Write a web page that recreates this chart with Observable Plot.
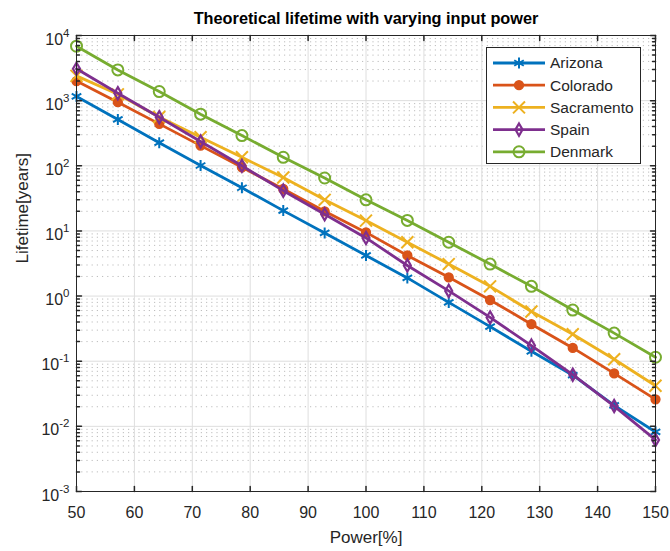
<!DOCTYPE html>
<html><head><meta charset="utf-8">
<script src="https://cdn.jsdelivr.net/npm/d3@7"></script>
<script src="https://cdn.jsdelivr.net/npm/@observablehq/plot@0.6"></script>
<style>
body{margin:0;background:#fff;font-family:"Liberation Sans",Arial,sans-serif;}
#wrap{position:relative;width:670px;height:551px;}
#legend{position:absolute;left:486px;top:47px;width:155px;height:117px;border:1px solid #262626;background:#fff;box-sizing:border-box;}
</style></head><body><div id="wrap"></div>
<script>
// ---- data ----
const power = [50, 57.14, 64.29, 71.43, 78.57, 85.71, 92.86, 100, 107.14, 114.29, 121.43, 128.57, 135.71, 142.86, 150];
const arizona    = [1160, 515, 226, 101, 46, 20.5, 9.3, 4.2, 1.9, 0.8, 0.34, 0.142, 0.061, 0.021, 0.0082];
const colorado   = [2000, 946, 440, 204, 95, 44, 20, 9.5, 4.2, 1.94, 0.87, 0.37, 0.16, 0.065, 0.026];
const sacramento = [2400, 1250, 560, 275, 135, 66, 30, 14.4, 6.7, 3.1, 1.41, 0.58, 0.26, 0.107, 0.042];
const spain      = [3080, 1300, 556, 236, 100, 41.5, 18, 7.8, 2.95, 1.2, 0.47, 0.174, 0.062, 0.0205, 0.0062];
const denmark    = [6850, 2960, 1380, 620, 291, 135, 65, 30, 14.5, 6.7, 3.1, 1.41, 0.61, 0.27, 0.115];
const seriesNames = ["Arizona", "Colorado", "Sacramento", "Spain", "Denmark"];
const seriesValues = [arizona, colorado, sacramento, spain, denmark];
const seriesColors = ["#0072BD", "#D95319", "#EDB120", "#7E2F8E", "#77AC30"];
const seriesSymbols = ["asterisk", "circle", "times", "diamond", "circle"];
const xTicks = [50, 60, 70, 80, 90, 100, 110, 120, 130, 140, 150];
const yExponents = [-3, -2, -1, 0, 1, 2, 3, 4];
const titleText = "Theoretical lifetime with varying input power";
const xLabel = "Power[%]";
const yLabel = "Lifetime[years]";

// ---- derived ----
const rows = [];
seriesNames.forEach((n, i) => power.forEach((p, j) => rows.push({name: n, power: p, life: seriesValues[i][j]})));
const yMajor = yExponents.map(e => Math.pow(10, e));
const yMinor = [];
yExponents.slice(0, -1).forEach(e => { for (let k = 2; k <= 9; k++) yMinor.push(k * Math.pow(10, e)); });
const xGrid = xTicks.slice(1, -1);
const ink = "#262626";
const tickShape = {draw(ctx, l) { ctx.moveTo(0, 0); ctx.lineTo(0, -l); }};
const markerStyle = {
  Arizona:    {r: 5.2, fill: "none", strokeWidth: 2},
  Colorado:   {r: 4.4, fill: "#D95319", strokeWidth: 1.5},
  Sacramento: {r: 5.5, fill: "none", strokeWidth: 2},
  Spain:      {r: 3.7, fill: "none", strokeWidth: 2.2},
  Denmark:    {r: 5.5, fill: "none", strokeWidth: 2}
};

const marks = [
  Plot.ruleY(yMinor, {stroke: "#bdbdbd", strokeDasharray: "1.2,4", strokeWidth: 1}),
  Plot.ruleY(yMajor, {stroke: "#dedede", strokeWidth: 1}),
  Plot.ruleX(xGrid, {stroke: "#dedede", strokeWidth: 1})
];
seriesNames.forEach((n, i) => {
  const d = rows.filter(r => r.name === n);
  const st = markerStyle[n];
  marks.push(Plot.line(d, {x: "power", y: "life", stroke: seriesColors[i], strokeWidth: 2.8}));
  marks.push(Plot.dot(d, {x: "power", y: "life", symbol: seriesSymbols[i], r: st.r, stroke: seriesColors[i], fill: st.fill, strokeWidth: st.strokeWidth}));
});
marks.push(
  Plot.frame({stroke: ink, strokeWidth: 1}),
  Plot.vector(yMajor, {x: 50, y: d => d, length: 5, rotate: 90, anchor: "start", shape: tickShape, stroke: ink}),
  Plot.vector(yMajor, {x: 150, y: d => d, length: 5, rotate: -90, anchor: "start", shape: tickShape, stroke: ink}),
  Plot.vector(yMinor, {x: 50, y: d => d, length: 3, rotate: 90, anchor: "start", shape: tickShape, stroke: ink}),
  Plot.vector(yMinor, {x: 150, y: d => d, length: 3, rotate: -90, anchor: "start", shape: tickShape, stroke: ink}),
  Plot.vector(xTicks, {x: d => d, y: 1e-3, length: 5, rotate: 0, anchor: "start", shape: tickShape, stroke: ink}),
  Plot.vector(xTicks, {x: d => d, y: 1e4, length: 5, rotate: 180, anchor: "start", shape: tickShape, stroke: ink}),
  Plot.axisX({ticks: xTicks, tickSize: 0, tickPadding: 15, label: null, fontSize: 16, fill: ink}),
  Plot.axisY({ticks: yMajor, tickSize: 0, tickPadding: 7, label: null, fontSize: 16, fill: ink, dy: 4,
              tickFormat: d => "10^" + Math.round(Math.log10(d))}),
  Plot.text([titleText], {frameAnchor: "top", dy: -23, fontSize: 16.3, fontWeight: "bold", fill: "#000"}),
  Plot.text([xLabel], {frameAnchor: "bottom", dy: 51, fontSize: 17, fill: ink}),
  Plot.text([yLabel], {frameAnchor: "left", dx: -54, rotate: -90, fontSize: 17, fill: ink})
);

const chart = Plot.plot({
  width: 670, height: 551,
  marginLeft: 76, marginRight: 15, marginTop: 35, marginBottom: 60,
  x: {domain: [50, 150], axis: null},
  y: {type: "log", domain: [1e-3, 1e4], axis: null},
  style: {fontFamily: "'Liberation Sans', Arial, sans-serif", background: "white", overflow: "visible"},
  marks
});

// superscript exponents in y tick labels
chart.querySelectorAll('g[aria-label="y-axis tick label"] text').forEach(t => {
  const s = t.textContent;
  if (!s.includes("^")) return;
  const [b, e] = s.split("^");
  t.textContent = "";
  const ns = "http://www.w3.org/2000/svg";
  const t1 = document.createElementNS(ns, "tspan"); t1.textContent = b;
  const t2 = document.createElementNS(ns, "tspan"); t2.textContent = e;
  t2.setAttribute("dy", "-8"); t2.setAttribute("font-size", "11.5");
  t.appendChild(t1); t.appendChild(t2);
});

const wrap = document.getElementById("wrap");
wrap.appendChild(chart);

// legend
const leg = document.createElement("div");
leg.id = "legend";
wrap.appendChild(leg);
const lsvg = d3.select(leg).append("svg").attr("width", 153).attr("height", 115)
  .style("font-family", "'Liberation Sans', Arial, sans-serif");
const symMap = {asterisk: d3.symbolAsterisk, circle: d3.symbolCircle, times: d3.symbolTimes, diamond: d3.symbolDiamond};
seriesNames.forEach((n, i) => {
  const yy = 15 + i * 22.2;
  const g = lsvg.append("g");
  g.append("line").attr("x1", 6).attr("x2", 58).attr("y1", yy).attr("y2", yy)
    .attr("stroke", seriesColors[i]).attr("stroke-width", 2.8);
  const st = markerStyle[n];
  g.append("path").attr("transform", `translate(32,${yy})`)
    .attr("d", d3.symbol(symMap[seriesSymbols[i]], Math.PI * st.r * st.r)())
    .attr("stroke", seriesColors[i]).attr("fill", st.fill).attr("stroke-width", st.strokeWidth);
  g.append("text").attr("x", 63).attr("y", yy).attr("dy", "0.35em")
    .attr("font-size", 15.5).attr("fill", ink).text(n);
});
</script></body></html>
